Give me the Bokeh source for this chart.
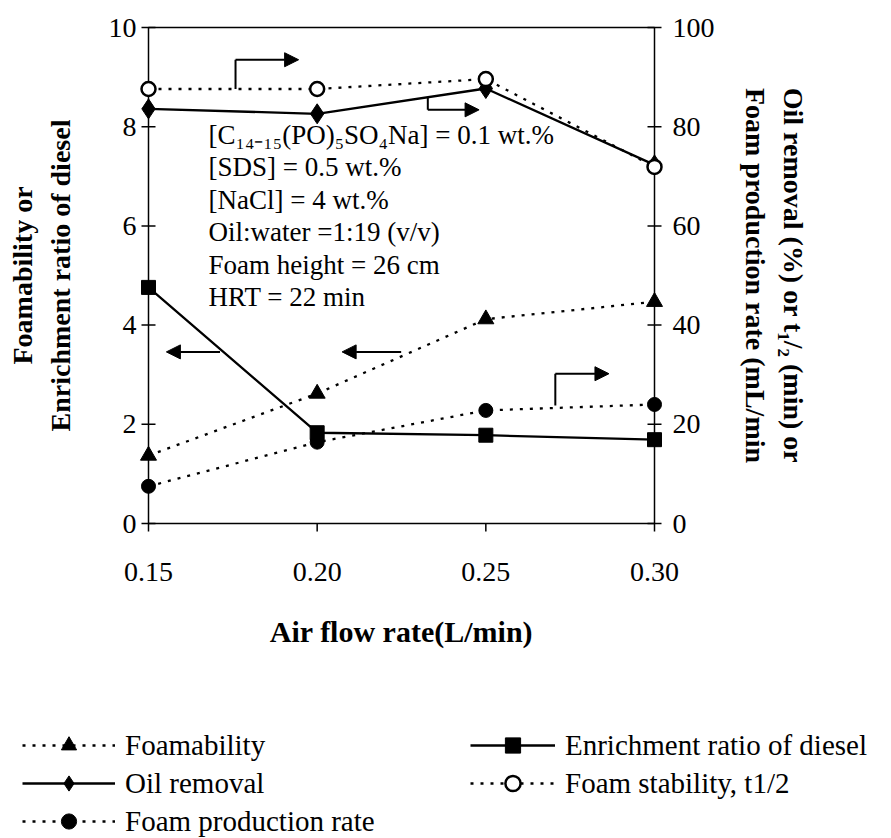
import math
from bokeh.plotting import figure
from bokeh.models import (Range1d, LinearAxis, FixedTicker, Label, Arrow, NormalHead,
                          Legend, LegendItem)
from bokeh.embed import file_html
from bokeh.resources import INLINE

# ---------------- data ----------------
air_flow = [0.15, 0.20, 0.25, 0.30]
foamability = [1.37, 2.62, 4.12, 4.47]          # left axis
enrichment = [4.76, 1.83, 1.78, 1.69]           # left axis
oil_removal = [83.6, 82.6, 87.7, 72.3]          # right axis (%)
foam_stability = [87.6, 87.6, 89.6, 71.9]       # right axis (min)
foam_production = [7.5, 16.4, 22.8, 24.0]       # right axis (mL/min)

x_ticks = [0.15, 0.20, 0.25, 0.30]
x_tick_labels = ["0.15", "0.20", "0.25", "0.30"]
left_ticks = [0, 2, 4, 6, 8, 10]
right_ticks = [0, 20, 40, 60, 80, 100]

conditions = ["[C₁₄₋₁₅(PO)₅SO₄Na] = 0.1 wt.%",
              "[SDS] = 0.5 wt.%",
              "[NaCl] = 4 wt.%",
              "Oil:water =1:19 (v/v)",
              "Foam height = 26 cm",
              "HRT = 22 min"]

# ---------------- layout constants ----------------
SERIF = "Liberation Serif"
W = 880
H1, H2 = 660, 178
BOX_L, BOX_R, BOX_T, BOX_B = 148, 654, 27, 523     # plot box in pixels
PADPX = 12                                          # frame extends beyond box
px_x = (x_ticks[-1] - x_ticks[0]) / (BOX_R - BOX_L)
px_y = (left_ticks[-1] - left_ticks[0]) / (BOX_B - BOX_T)
rscale = (right_ticks[-1] - right_ticks[0]) / (left_ticks[-1] - left_ticks[0])

p = figure(width=W, height=H1, output_backend="svg", toolbar_location=None,
           x_range=Range1d(x_ticks[0] - PADPX * px_x, x_ticks[-1] + PADPX * px_x),
           y_range=Range1d(left_ticks[0] - PADPX * px_y, left_ticks[-1] + PADPX * px_y),
           min_border_left=BOX_L - PADPX, min_border_right=W - BOX_R - PADPX,
           min_border_top=BOX_T - PADPX, min_border_bottom=H1 - BOX_B - PADPX,
           background_fill_color="white", border_fill_color="white",
           outline_line_color=None)
p.grid.visible = False
p.extra_y_ranges = {"right": Range1d((left_ticks[0] - PADPX * px_y) * rscale,
                                     (left_ticks[-1] + PADPX * px_y) * rscale)}


def style_ticklabels(ax, standoff):
    ax.axis_line_color = None
    ax.major_tick_line_color = None
    ax.minor_tick_line_color = None
    ax.major_tick_in = 0
    ax.major_tick_out = 0
    ax.major_label_text_font = SERIF
    ax.major_label_text_font_size = "28px"
    ax.major_label_text_color = "black"
    ax.major_label_standoff = standoff


def style_title(ax, text, standoff):
    ax.axis_label = text
    ax.axis_label_text_font = SERIF
    ax.axis_label_text_font_style = "bold"
    ax.axis_label_text_font_size = "28px"
    ax.axis_label_text_color = "black"
    ax.axis_label_standoff = standoff


def title_only_axis(text, standoff, **kw):
    ax = LinearAxis(ticker=FixedTicker(ticks=[]), **kw)
    style_ticklabels(ax, 0)
    ax.major_label_text_font_size = "0px"
    style_title(ax, text, standoff)
    return ax


xa = p.xaxis[0]
xa.ticker = FixedTicker(ticks=x_ticks)
xa.major_label_overrides = {t: l for t, l in zip(x_ticks, x_tick_labels)}
style_ticklabels(xa, 27)
style_title(xa, "Air flow rate(L/min)", 31)
xa.axis_label_text_font_size = "30px"

ya = p.yaxis[0]
ya.ticker = FixedTicker(ticks=left_ticks)
style_ticklabels(ya, 0)
style_title(ya, "Enrichment ratio of diesel", 30)
p.add_layout(title_only_axis("Foamability or", 4), "left")

yr = LinearAxis(y_range_name="right", ticker=FixedTicker(ticks=right_ticks))
style_ticklabels(yr, 6)
style_title(yr, "Foam production rate (mL/min", 22)
p.add_layout(yr, "right")
p.add_layout(title_only_axis("Oil removal (%) or t₁/₂ (min) or", 4, y_range_name="right"),
             "right")

# plot box and tick marks
p.quad(left=[x_ticks[0]], right=[x_ticks[-1]], bottom=[left_ticks[0]], top=[left_ticks[-1]],
       fill_color=None, line_color="black", line_width=1.5)
p.scatter([x_ticks[0]] * len(left_ticks), left_ticks, marker="dash", size=14,
          line_color="black", line_width=1.5)
p.scatter([x_ticks[-1]] * len(left_ticks), left_ticks, marker="dash", size=14,
          line_color="black", line_width=1.5)
p.segment(x0=x_ticks, y0=[left_ticks[0]] * len(x_ticks), x1=x_ticks,
          y1=[left_ticks[0] - 8 * px_y] * len(x_ticks), line_color="black", line_width=1.5)

dot = "3 7"
LW = 2.3
STYLE = {
    "foam": dict(line=dict(line_dash=dot), marker=dict(marker="triangle", size=16, color="black")),
    "enr": dict(line=dict(), marker=dict(marker="square", size=14, color="black")),
    "oil": dict(line=dict(), marker=dict(marker="diamond", size=20, color="black")),
    "stab": dict(line=dict(line_dash=dot),
                 marker=dict(marker="circle", size=14, fill_color="white", line_color="black",
                             line_width=2.5)),
    "prod": dict(line=dict(line_dash=dot), marker=dict(marker="circle", size=14, color="black")),
}


def series(fig, key, ys, **kw):
    st = STYLE[key]
    ln = fig.line(air_flow, ys, line_color="black", line_width=LW, **st["line"], **kw)
    mk = fig.scatter(air_flow, ys, **st["marker"], **kw)
    return [ln, mk]


series(p, "foam", foamability)
series(p, "enr", enrichment)
series(p, "oil", oil_removal, y_range_name="right")
series(p, "stab", foam_stability, y_range_name="right")
series(p, "prod", foam_production, y_range_name="right")


# arrows (positions in left-axis units)
def arrow(xs, ys, xe, ye, head=True):
    kw = dict(x_start=xs, y_start=ys, x_end=xe, y_end=ye, line_color="black", line_width=2)
    kw["end"] = NormalHead(size=14, fill_color="black", line_color="black") if head else None
    p.add_layout(Arrow(**kw))


arrow(0.1758, 8.76, 0.1758, 9.35, head=False)
arrow(0.1758, 9.35, 0.1945, 9.35)
arrow(0.2328, 8.59, 0.2328, 8.34, head=False)
arrow(0.2328, 8.34, 0.2480, 8.34)
arrow(0.1712, 3.46, 0.1553, 3.46)
arrow(0.2249, 3.46, 0.2074, 3.46)
arrow(0.2706, 2.38, 0.2706, 3.02, head=False)
arrow(0.2706, 3.02, 0.2865, 3.02)

# condition text block
for i, t in enumerate(conditions):
    p.add_layout(Label(x=0.1678, y=7.84, y_offset=-32.5 * i, text=t, text_font=SERIF,
                       text_font_size="27px", text_align="left", text_baseline="middle",
                       text_color="black"))

# ---------------- legend panel (separate root below the chart) ----------------
q = figure(width=W, height=H2, output_backend="svg", toolbar_location=None,
           x_range=Range1d(0, 1), y_range=Range1d(1000, 1001), x_axis_location=None,
           y_axis_location=None, min_border=0, outline_line_color=None,
           background_fill_color="white", border_fill_color="white")
q.grid.visible = False

# same series drawn out of view: only their legend glyphs show
g_foam = series(q, "foam", foamability)
g_enr = series(q, "enr", enrichment)
g_oil = series(q, "oil", oil_removal)
g_stab = series(q, "stab", foam_stability)
g_prod = series(q, "prod", foam_production)


def make_legend(items, loc, gw):
    lg = Legend(items=items, location=loc, glyph_width=gw, glyph_height=38, label_height=38,
                label_standoff=10, spacing=0, padding=0, margin=0, border_line_color=None,
                background_fill_alpha=0, label_text_font=SERIF, label_text_font_size="29px",
                label_text_color="black")
    q.add_layout(lg)


make_legend([LegendItem(label="Foamability", renderers=g_foam),
             LegendItem(label="Oil removal", renderers=g_oil),
             LegendItem(label="Foam production rate", renderers=g_prod)],
            (22, -2), 93)
make_legend([LegendItem(label="Enrichment ratio of diesel", renderers=g_enr),
             LegendItem(label="Foam stability, t1/2", renderers=g_stab)],
            (470, 36), 85)

open("out.html", "w").write(file_html([p, q], INLINE))
